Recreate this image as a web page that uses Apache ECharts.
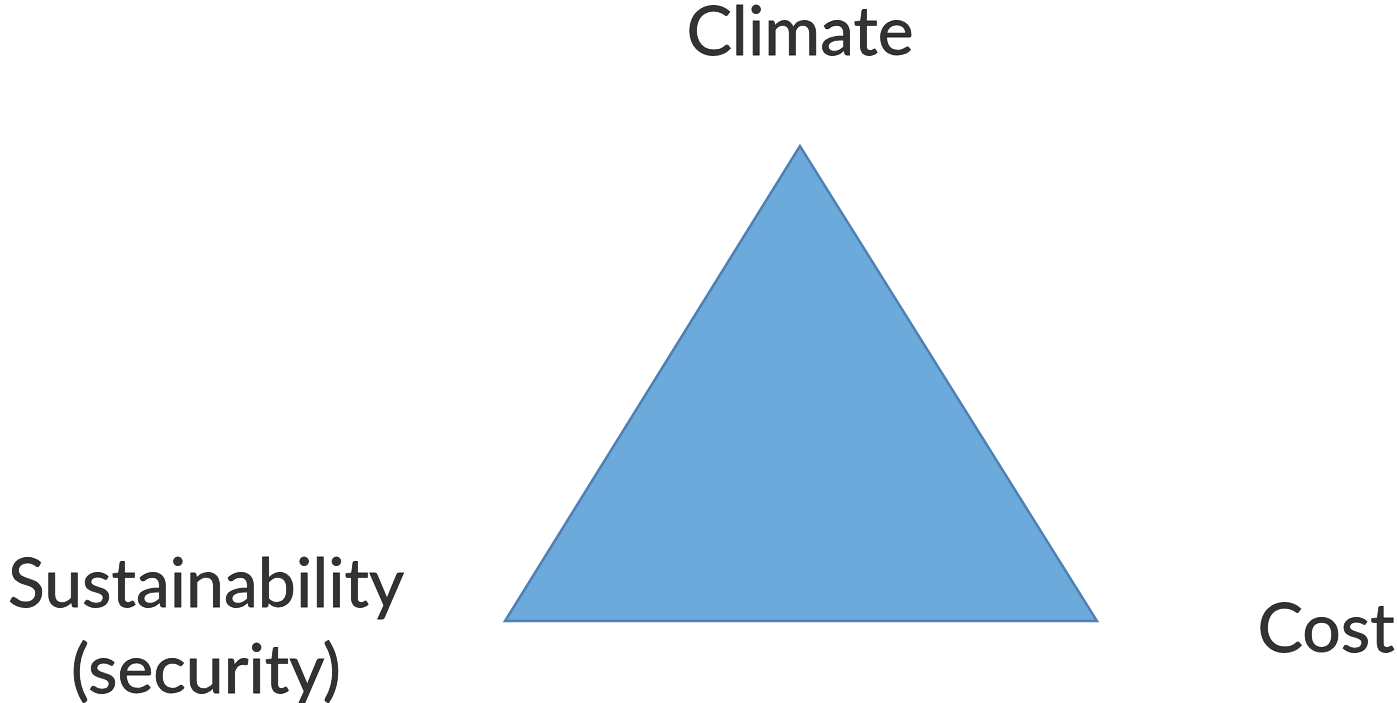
<!DOCTYPE html>
<html><head><meta charset="utf-8">
<script src="https://cdn.jsdelivr.net/npm/echarts@6/dist/echarts.min.js"></script>
<style>html,body{margin:0;padding:0;background:#fff}#c{width:1397px;height:703px}</style>
</head><body><div id="c"></div>
<script>
// Triangle corners (diagram units: x across, y down)
const cornerNames = ['Climate', 'Sustainability (security)', 'Cost'];
const cornerX = [800, 505, 1097];
const cornerY = [146, 621, 621];
// Label texts and anchor points
const labelTexts = ['Climate', 'Sustainability\n(security)', 'Cost'];
const labelX = [800, 206, 1326];
const labelY = [33, 628, 630];

const triangle = cornerX.map((x, i) => [x, cornerY[i]]);
const labels = labelTexts.map((t, i) => ({ name: t, value: [labelX[i], labelY[i]] }));

const chart = echarts.init(document.getElementById('c'));
chart.setOption({
  animation: false,
  grid: { left: 0, right: 0, top: 0, bottom: 0 },
  xAxis: { type: 'value', min: 0, max: 1397, show: false },
  yAxis: { type: 'value', min: 0, max: 703, inverse: true, show: false },
  series: [
    {
      type: 'custom',
      data: [0],
      renderItem: function (params, api) {
        const pts = triangle.map(p => api.coord(p));
        return {
          type: 'polygon',
          shape: { points: pts },
          style: { fill: '#6CAADB', stroke: '#4E80B6', lineWidth: 2.5 }
        };
      }
    },
    {
      type: 'scatter',
      symbolSize: 0,
      data: labels,
      label: {
        show: true,
        position: 'inside',
        formatter: p => p.name,
        color: '#000000',
        textBorderColor: '#000000',
        textBorderWidth: 0.8,
        fontFamily: 'Lato',
        fontSize: 68,
        lineHeight: 86,
        align: 'center',
        verticalAlign: 'middle'
      }
    }
  ]
});
</script></body></html>
